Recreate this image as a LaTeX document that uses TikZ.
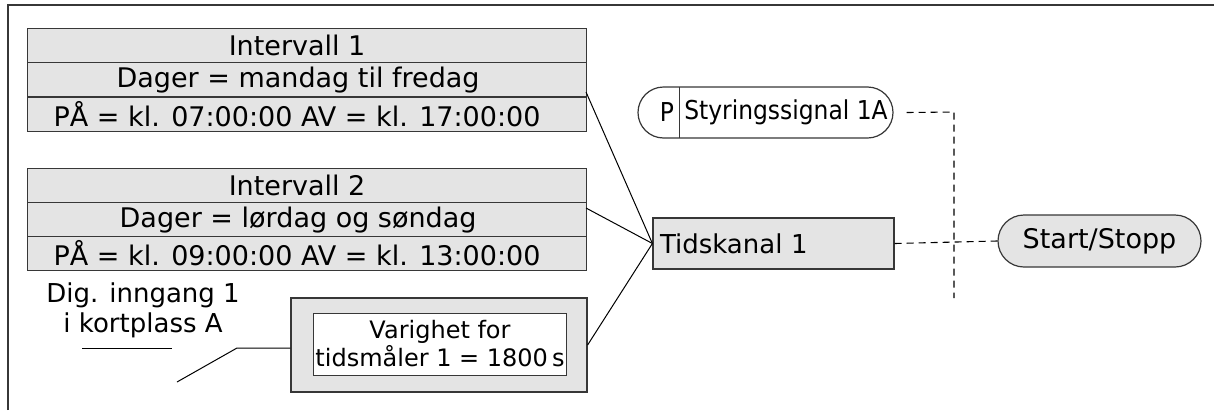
\documentclass[tikz,border=0pt]{standalone}
\usepackage{fontspec}
\setmainfont{DejaVu Sans}
\newfontfamily\condfont{DejaVu Sans Condensed}
\usetikzlibrary{shapes.misc}
\definecolor{boxgray}{RGB}{228,228,228}
\definecolor{linegray}{RGB}{55,55,55}
\tikzset{
  rowbox/.style={draw=linegray, line width=1.2pt, fill=boxgray, minimum width=559pt, minimum height=34pt, anchor=north west, inner sep=0pt},
  rowtext/.style={font=\fontsize{27}{31}\selectfont, inner sep=0pt},
  conn/.style={draw=black, line width=1pt},
  dashconn/.style={draw=black, line width=1.1pt, dash pattern=on 7pt off 5pt},
  pill/.style={draw=linegray, line width=1.2pt, rounded rectangle, inner sep=0pt},
}
\begin{document}
\begin{tikzpicture}[x=1pt,y=-1pt]
\useasboundingbox (0,0) rectangle (1214,410);
% frame
\draw[linegray, line width=1.6pt] (8,410) -- (8,5) -- (1214,5);

% Interval 1
\node[rowbox] (i1a) at (27,28) {};
\node[rowbox] (i1b) at (27,62) {};
\node[rowbox] (i1c) at (27,97) {};
\node[rowtext] (t1a) at ([xshift=-10pt]i1a.center) {Intervall 1};
\node[rowtext] (t1b) at ([xshift=-9pt]i1b.center) {Dager = mandag til fredag};
\node[rowtext] (t1c) at ([xshift=-10pt]i1c.center) {PÅ = kl. 07:00:00 AV = kl. 17:00:00};

% Interval 2
\node[rowbox] (i2a) at (27,168) {};
\node[rowbox] (i2b) at (27,202) {};
\node[rowbox] (i2c) at (27,236) {};
\node[rowtext] (t2a) at ([xshift=-10pt]i2a.center) {Intervall 2};
\node[rowtext] (t2b) at ([xshift=-9pt]i2b.center) {Dager = lørdag og søndag};
\node[rowtext] (t2c) at ([xshift=-10pt]i2c.center) {PÅ = kl. 09:00:00 AV = kl. 13:00:00};

% Dig input label
\node[font=\fontsize{26}{30}\selectfont, align=center, inner sep=0pt] (dig) at (143,310) {Dig. inngang 1\\ i kortplass A};
\coordinate (ulA) at (82,348);
\coordinate (ulB) at (172,348);
\draw[conn] (ulA) -- (ulB);

% timer box
\node[draw=linegray, line width=1.2pt, fill=boxgray, minimum width=296pt, minimum height=94pt, inner sep=0pt] (outer) at (439,345) {};
\node[draw=linegray, line width=0.9pt, fill=white, minimum width=253pt, minimum height=62pt, inner sep=0pt] (inner) at (439.5,344) {};
\node[font=\fontsize{24}{28}\selectfont, align=center, inner sep=0pt] (vtext) at (440,344) {Varighet for\\tidsmåler 1 = 1800\,s};

\coordinate (dstart) at (177,382);
\coordinate (dknee) at (237,348);
\draw[conn] (dstart) -- (dknee) -- (dknee -| outer.west);

% Tidskanal
\node[draw=linegray, line width=1.2pt, fill=boxgray, minimum height=51pt, text width=227pt, inner xsep=7pt, inner ysep=0pt, align=left, font=\fontsize{26}{30}\selectfont] (tk) at (773.5,243.5) {Tidskanal 1};

% connectors to Tidskanal
\coordinate (e1) at (586,92);
\coordinate (e2) at (586,208);
\draw[conn] (e1) -- (tk.west);
\draw[conn] (e2) -- (tk.west);
\draw[conn] (outer.east) -- (tk.west);

% Styringssignal pill
\node[pill, fill=white, minimum width=255pt, minimum height=51pt] (sig) at (765.5,112.5) {};
\coordinate (divT) at (679,87);
\coordinate (divB) at (679,138);
\draw[linegray, line width=0.9pt] (divT) -- (divB);
\node[font=\condfont\fontsize{26}{30}\selectfont, inner sep=0pt] (ptext) at (667,112) {P};
\node[font=\condfont\fontsize{26}{30}\selectfont, inner sep=0pt] (stext) at (786,112) {Styringssignal 1A};

% Start/Stopp pill
\node[pill, fill=boxgray, minimum width=203pt, minimum height=52pt, font=\fontsize{27}{31}\selectfont] (ss) at (1099.5,241) {Start/Stopp};

% dashed connectors
\coordinate (corner) at (954,112);
\coordinate (vend) at (954,298);
\draw[dashconn] ([xshift=13pt]sig.east) -- (corner) -- (vend);
\draw[dashconn] (tk.east) -- (ss.west);
\end{tikzpicture}
\end{document}
